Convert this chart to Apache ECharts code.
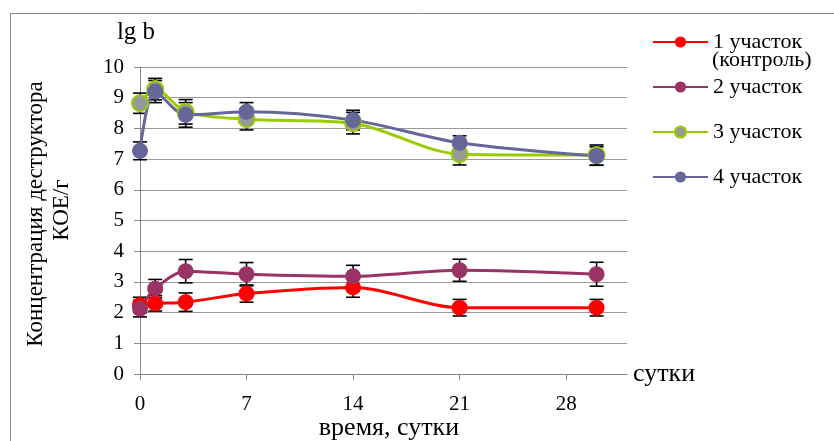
<!DOCTYPE html>
<html><head><meta charset="utf-8">
<script src="https://cdn.jsdelivr.net/npm/echarts@6/dist/echarts.min.js"></script>
<style>html,body{margin:0;padding:0;background:#fff}#c{width:834px;height:441px}</style>
</head><body><div id="c"></div>
<script>
const days = [0, 1, 3, 7, 14, 21, 30];
const names = ['1 участок', '2 участок', '3 участок', '4 участок'];
const s1 = [2.25, 2.3, 2.34, 2.62, 2.82, 2.16, 2.16];
const s2 = [2.13, 2.78, 3.35, 3.25, 3.18, 3.38, 3.25];
const s3 = [8.82, 9.28, 8.54, 8.30, 8.17, 7.16, 7.13];
const s4 = [7.27, 9.2, 8.44, 8.54, 8.27, 7.53, 7.1];
const e1 = [0.25, 0.25, 0.3, 0.28, 0.32, 0.27, 0.27];
const e2 = [0.27, 0.3, 0.38, 0.38, 0.36, 0.36, 0.39];
const e3 = [0.33, 0.35, 0.4, 0.35, 0.35, 0.35, 0.33];
const e4 = [0.29, 0.36, 0.4, 0.3, 0.32, 0.23, 0.3];
const xTicks = [0, 7, 14, 21, 28];

const FONT = 'Liberation Serif';
const vals = [s1, s2, s3, s4];
const errs = [e1, e2, e3, e4];
const lineColors = ['#ff0000', '#993366', '#99cc00', '#666699'];
const fillColors = ['#ff0000', '#993366', '#999999', '#666699'];

const series = [];
vals.forEach((v, i) => {
  series.push({
    name: names[i], type: 'line', smooth: 0.3, z: 5,
    data: days.map((d, j) => [d, v[j]]),
    symbol: 'circle', symbolSize: 16,
    lineStyle: { color: lineColors[i], width: 3 },
    itemStyle: { color: fillColors[i], borderColor: lineColors[i], borderWidth: i === 2 ? 2 : 0 }
  });
});
vals.forEach((v, i) => {
  series.push({
    type: 'custom', z: 3, silent: true,
    data: days.map((d, j) => [d, v[j] - errs[i][j], v[j] + errs[i][j]]),
    renderItem: function (params, api) {
      const lo = api.coord([api.value(0), api.value(1)]);
      const hi = api.coord([api.value(0), api.value(2)]);
      const w = 7;
      const st = { stroke: '#000', lineWidth: 1.6 };
      return { type: 'group', children: [
        { type: 'line', shape: { x1: lo[0], y1: lo[1], x2: hi[0], y2: hi[1] }, style: st },
        { type: 'line', shape: { x1: lo[0] - w, y1: lo[1], x2: lo[0] + w, y2: lo[1] }, style: st },
        { type: 'line', shape: { x1: hi[0] - w, y1: hi[1], x2: hi[0] + w, y2: hi[1] }, style: st }
      ]};
    }
  });
});

const chart = echarts.init(document.getElementById('c'));
chart.setOption({
  animation: false,
  textStyle: { fontFamily: FONT },
  grid: { left: 140, right: 207, top: 67, bottom: 67 },
  xAxis: {
    type: 'value', min: 0, max: 32, interval: 7,
    name: 'сутки', nameLocation: 'end', nameGap: 6,
    nameTextStyle: { fontFamily: FONT, fontSize: 26, color: '#000', verticalAlign: 'middle', padding: [4, 0, 0, 0] },
    axisLine: { lineStyle: { color: '#888' } },
    axisTick: { show: true, length: 6, lineStyle: { color: '#888' } },
    splitLine: { show: false },
    axisLabel: { margin: 20, fontFamily: FONT, fontSize: 21, color: '#000', showMaxLabel: false,
      formatter: v => xTicks.indexOf(v) >= 0 ? String(v) : '' }
  },
  yAxis: {
    type: 'value', min: 0, max: 10, interval: 1,
    name: 'lg b', nameLocation: 'end', nameGap: 22,
    nameTextStyle: { fontFamily: FONT, fontSize: 25, color: '#000', align: 'center', padding: [0, 8, 0, 0] },
    axisLine: { show: true, lineStyle: { color: '#888' } },
    axisTick: { show: true, length: 6, lineStyle: { color: '#888' } },
    splitLine: { lineStyle: { color: '#999' } },
    axisLabel: { margin: 16, fontFamily: FONT, fontSize: 21, color: '#000' }
  },
  legend: {
    orient: 'vertical', left: 647, top: 26, itemGap: 23,
    itemWidth: 55, itemHeight: 14,
    data: names,
    textStyle: { fontFamily: FONT, fontSize: 22, color: '#000' }
  },
  graphic: [
    { type: 'rect', shape: { x: 10.5, y: 13.5, width: 840, height: 440 }, style: { fill: 'none', stroke: '#888', lineWidth: 1 }, silent: true },
    { type: 'text', x: 712, y: 60, style: { text: '(контроль)', font: '22px "Liberation Serif"', fill: '#000', verticalAlign: 'middle' } },
    { type: 'text', x: 389, y: 428, style: { text: 'время, сутки', font: '26px "Liberation Serif"', fill: '#000', align: 'center', verticalAlign: 'middle' } },
    { type: 'text', x: 36, y: 214, rotation: Math.PI / 2, style: { text: 'Концентрация деструктора', font: '23px "Liberation Serif"', fill: '#000', align: 'center', verticalAlign: 'middle' } },
    { type: 'text', x: 62, y: 210, rotation: Math.PI / 2, style: { text: 'КОЕ/г', font: '23px "Liberation Serif"', fill: '#000', align: 'center', verticalAlign: 'middle' } }
  ],
  series: series
});
</script></body></html>
